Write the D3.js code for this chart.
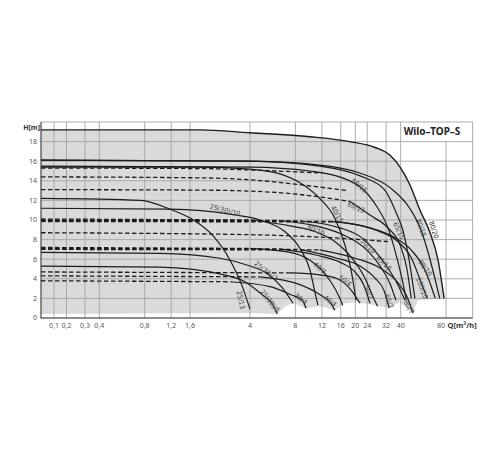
<!DOCTYPE html>
<html>
<head>
<meta charset="utf-8">
<script src="https://cdn.jsdelivr.net/npm/d3@7"></script>
<style>
  body { margin: 0; background: #fff; }
  text { font-family: "Noto Sans", "DejaVu Sans", sans-serif; }
</style>
</head>
<body>
<svg id="chart" width="500" height="450"></svg>
<script>
// axis ticks
const yTicks = [0, 2, 4, 6, 8, 10, 12, 14, 16, 18, 20];
const xTicks = [0.1, 0.2, 0.3, 0.4, 0.8, 1.2, 1.6, 4, 8, 12, 16, 20, 24, 32, 40, 80];
const xTickLabels = ["0,1", "0,2", "0,3", "0,4", "0,8", "1,2", "1,6", "4", "8", "12", "16", "20", "24", "32", "40", "80"];

// pump curves, [Q m3/h, H m]
const c80_20 = [[0,19.2],[1.86,19.2],[4,18.9],[10,18.5],[18.4,18.0],[27,17.4],[34,16.6],[40,15.3],[46,13.6],[53.7,11.0],[62.3,8.8],[70.8,5.9],[77.6,2.0]];
const c80_15 = [[0,16.1],[4,16.0],[11.6,15.6],[21.4,14.8],[34,13.3],[45.9,11.2],[54.5,9.0],[62.3,6.1],[72.6,2.0]];
const c65_15 = [[0,16.1],[4,16.0],[11.6,15.5],[21.5,14.5],[31.2,13.1],[37.2,10.8],[41.6,8.8],[45.5,5.9],[48.2,3.4],[49.7,2.0]];
const c50_15 = [[0,15.5],[4,15.4],[10,15.0],[17.1,14.2],[21.5,13.4],[26.9,11.7],[32.9,9.2],[37.8,6.1],[41.6,3.4],[43.6,1.8]];
const c40_15 = [[0,15.4],[1.86,15.4],[4,15.2],[6.32,14.7],[8.58,13.8],[11.6,12.2],[14.6,10.2],[17.1,7.4],[19.0,4.4],[20.2,1.8]];
const c65_13 = [[0,13.1],[1.86,13.05],[4,12.95],[8.58,12.6],[18.4,11.9],[21,11.3],[25,10.5],[32.9,9.2],[40,7.3],[44,5.0],[47,2.0]];
const c25_13 = [[0,12.2],[0.75,12.0],[1.18,11.1],[1.73,9.9],[2.27,8.4],[2.95,5.9],[3.54,3.3],[4,0.9]];
const c25_10 = [[0,11.2],[1.18,11.1],[2.95,10.6],[4.66,10.0],[6.83,8.8],[8.58,7.1],[10,4.9],[10.9,2.3],[11.3,1.3]];
const c25_7 = [[0,6.7],[1.01,6.6],[2.53,6.1],[4,5.3],[5.25,4.5],[6.46,3.2],[7.72,1.5]];
const c25_5 = [[0,5.3],[1.01,5.2],[2.53,4.5],[3.7,3.7],[4.8,2.4],[5.59,1.5],[6.07,0.4]];
const c30_4 = [[0,3.8],[2.95,3.7],[5.43,3.2],[7.55,2.35],[8.86,1.84],[9.42,1.0]];
const c40_4 = [[0,4.3],[4.66,4.2],[8.58,3.4],[11.6,2.4],[13.6,1.6],[14.6,0.8]];
const c50_4 = [[0,4.7],[7.37,4.6],[11.6,4.4],[15.2,4.0],[18.4,3.0],[21.5,1.5]];
const c40_7 = [[0,7.2],[4,7.1],[7.37,6.7],[10,5.9],[11.8,5.0],[13.9,3.6],[15.8,2.0],[16.5,1.3]];
const c50_7 = [[0,7.1],[6.32,7.05],[11.1,6.4],[15.8,5.7],[19.9,4.7],[22.7,3.4],[24.1,2.3],[25,1.5]];
const c65_7 = [[0,7.05],[8.58,7.0],[15.1,6.1],[21.5,5.3],[26.9,4.1],[31.2,2.7],[33.5,1.0]];
const c80_7 = [[0,7.0],[11.6,6.95],[19.9,6.1],[29.2,5.1],[38.3,3.6],[44.6,2.0],[48.2,0.5]];
const c40_10 = [[0,10.1],[4.12,10.0],[7.37,9.4],[10.9,8.8],[14.6,7.8],[19.0,6.1],[23.1,4.1],[26.5,2.0],[28.1,1.2]];
const c50_10 = [[0,10.0],[6.32,9.95],[11.6,9.3],[17.1,8.4],[24.0,6.9],[29.2,5.3],[34.0,3.5],[37.2,1.8]];
const c65_10 = [[0,9.95],[8.58,9.9],[15.8,9.2],[22.0,8.2],[27.5,6.7],[32.9,5.1],[38.3,3.4],[42.7,1.8]];
const c80_10 = [[0,9.9],[13.6,9.85],[25,9.2],[36.6,8.2],[47.2,6.9],[57.5,5.0],[63.2,3.4],[67.8,2.0]];
const c100_10 = [[0,9.85],[15.8,9.8],[26.9,9.0],[38.3,7.8],[47.2,6.1],[55.3,3.4],[60.0,2.0]];

// reduced speed lines (dashed only)
const d15 = [[0,15.3],[1.86,15.25],[4,15.1],[12,14.8]];
const d14 = [[0,14.4],[1.86,14.3],[4,14.1],[8.58,13.6],[17.6,13.0]];
const d9 = [[0,8.7],[4,8.5],[13.6,8.2],[33,7.8]];

// lower edge of the shaded field
const floor = [[0,0.4],[4,0.5],[6.07,0.4],[6.83,1.2],[7.72,1.5],[9.42,1.0],[11.6,1.2],[14.6,0.8],[17.1,1.5],[20.2,1.6],[25,1.4],[33.5,1.0],[39.4,1.6],[48.2,0.5],[51.9,1.8],[77.6,2.0]];

// curve labels: name, Q, H, angle
const curveLabels = [
  ["25/13", 3.48, 1.84, 78], ["25(30)/10", 2.73, 11.0, 14], ["25(30)/7", 5.1, 4.8, 38],
  ["25(30)/5", 5.43, 1.73, 52], ["30/4", 8.7, 1.94, 38], ["40/4", 13.6, 1.73, 38],
  ["50/4", 17.1, 3.8, 35], ["40/7", 11.6, 5.1, 42], ["40/10", 10.95, 9.0, 28],
  ["50/10", 24.3, 7.35, 45], ["65/10", 31, 5.6, 45], ["50/7", 24.6, 2.65, 72],
  ["65/7", 33.5, 1.73, 72], ["80/7", 45.4, 1.12, 62], ["100/10", 55.5, 3.06, 70],
  ["80/10", 58, 5.1, 55], ["65/15", 39, 8.9, 66], ["80/15", 54.7, 9.2, 70],
  ["80/20", 66.4, 9.0, 72], ["50/15", 21.2, 13.5, 40], ["65/13", 20.2, 11.3, 25],
  ["40/15", 15.1, 10.6, 62]
];

// pts before index `dash` are drawn dashed
const series = [
  { pts: c80_20, dash: 0 }, { pts: c80_15, dash: 0 }, { pts: c65_15, dash: 0 },
  { pts: c50_15, dash: 0 }, { pts: c40_15, dash: 0 }, { pts: c65_13, dash: 4 },
  { pts: c25_13, dash: 0 }, { pts: c25_10, dash: 0 }, { pts: c25_7, dash: 0 },
  { pts: c25_5, dash: 0 }, { pts: c30_4, dash: 1 }, { pts: c40_4, dash: 1 },
  { pts: c50_4, dash: 1 }, { pts: c40_7, dash: 1 }, { pts: c50_7, dash: 1 },
  { pts: c65_7, dash: 1 }, { pts: c80_7, dash: 1 }, { pts: c40_10, dash: 1 },
  { pts: c50_10, dash: 1 }, { pts: c65_10, dash: 1 }, { pts: c80_10, dash: 1 },
  { pts: c100_10, dash: 1 }
];
const dashedOnly = [d15, d14, d9];

const plotLeft = 41, plotRight = 472.6, plotTop = 122, plotBottom = 318;

// log axis from 0,4 up, stretched linear part below it
const xLog = d3.scaleLog().domain([0.4, 120]).range([99.3, plotRight]);
const xLow = d3.scaleLinear().domain([0, 0.1, 0.2, 0.3, 0.4]).range([plotLeft, 54, 66.5, 85, 99.3]);
const x = q => q < 0.4 ? xLow(q) : xLog(q);
const y = d3.scaleLinear().domain([0, 20]).range([plotBottom, plotTop]);

const svg = d3.select("#chart");

const smooth = d3.line().x(d => x(d[0])).y(d => y(d[1])).curve(d3.curveMonotoneX);
const straight = d3.line().x(d => x(d[0])).y(d => y(d[1]));

// shaded field
svg.append("path")
  .attr("d", smooth(c80_20) + straight(floor.slice().reverse()).replace("M", "L") + "Z")
  .attr("fill", "#dadada");

// grid
const grid = svg.append("g").attr("stroke", "#a4a4a4").attr("stroke-width", 0.9);
yTicks.forEach(t => {
  grid.append("line").attr("x1", plotLeft).attr("x2", plotRight).attr("y1", y(t)).attr("y2", y(t));
});
xTicks.forEach(t => {
  grid.append("line").attr("x1", x(t)).attr("x2", x(t))
    .attr("y1", t > 40 ? y(18) : plotTop).attr("y2", plotBottom);
});
grid.append("line").attr("x1", plotRight).attr("x2", plotRight).attr("y1", plotTop).attr("y2", plotBottom);

// axes
svg.append("line").attr("x1", plotLeft).attr("x2", plotLeft).attr("y1", plotTop).attr("y2", plotBottom + 0.5)
  .attr("stroke", "#444").attr("stroke-width", 1.2);
svg.append("line").attr("x1", plotLeft).attr("x2", plotRight).attr("y1", plotBottom).attr("y2", plotBottom)
  .attr("stroke", "#444").attr("stroke-width", 1);

svg.append("g").selectAll("text").data(yTicks.slice(0, -1)).join("text")
  .attr("x", 37).attr("y", d => y(d)).attr("dy", "0.35em")
  .attr("text-anchor", "end").attr("font-size", 7).attr("fill", "#555")
  .text(d => d);

svg.append("g").selectAll("text").data(xTicks).join("text")
  .attr("x", (d, i) => i === xTicks.length - 1 ? x(d) - 1 : x(d))
  .attr("y", 328)
  .attr("text-anchor", (d, i) => i === xTicks.length - 1 ? "end" : "middle")
  .attr("font-size", 7).attr("fill", "#555")
  .text((d, i) => xTickLabels[i]);

svg.append("text").attr("x", x(80) + 1.5).attr("y", 328)
  .attr("font-size", 7.5).attr("font-weight", "bold").attr("fill", "#333")
  .text("Q[m³/h]");
svg.append("text").attr("x", 40).attr("y", 129.5).attr("text-anchor", "end")
  .attr("font-size", 7).attr("font-weight", "bold").attr("fill", "#333")
  .text("H[m]");

// curves
const curveG = svg.append("g").attr("fill", "none").attr("stroke", "#1c1c1c");
dashedOnly.forEach(pts => {
  curveG.append("path").attr("d", smooth(pts))
    .attr("stroke-width", 1.3).attr("stroke-dasharray", "4.5,2.5");
});
series.forEach(s => {
  if (s.dash > 0) {
    curveG.append("path").attr("d", smooth(s.pts.slice(0, s.dash + 1)))
      .attr("stroke-width", 1.3).attr("stroke-dasharray", "4.5,2.5");
  }
  curveG.append("path").attr("d", smooth(s.pts.slice(s.dash)))
    .attr("stroke-width", s.pts === c80_20 ? 1.4 : 1.2);
});

// curve labels
svg.append("g").selectAll("text").data(curveLabels).join("text")
  .attr("transform", d => `translate(${x(d[1])},${y(d[2])}) rotate(${d[3]})`)
  .attr("text-anchor", "middle").attr("dy", "0.35em")
  .attr("font-size", 7).attr("fill", "#444")
  .style("font-family", "'DejaVu Sans Condensed', 'Liberation Sans Narrow', sans-serif")
  .text(d => d[0]);

// title cell
svg.append("text").attr("x", x(40) + 3).attr("y", 135)
  .attr("font-size", 10).attr("font-weight", "bold").attr("fill", "#222")
  .text("Wilo–TOP–S");
</script>
</body>
</html>
